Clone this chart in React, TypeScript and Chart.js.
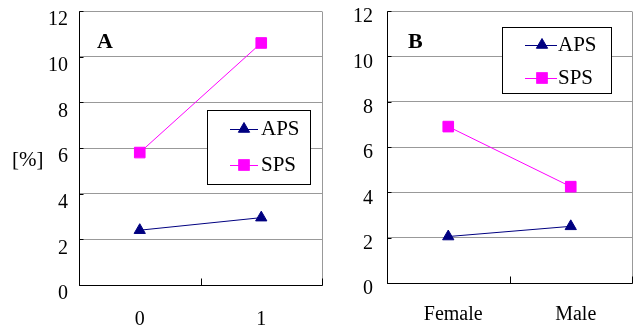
import React, { useEffect, useRef } from 'react';
import { Chart, registerables } from 'chart.js';

Chart.register(...registerables);

// ---- data ----
const catsA = ['0', '1'];
const apsA = [2.4, 2.95];
const spsA = [5.8, 10.6];

const catsB = ['Female', 'Male'];
const apsB = [2.05, 2.5];
const spsB = [6.9, 4.25];

const yTicks = [0, 2, 4, 6, 8, 10, 12];
const seriesNames = ['APS', 'SPS'];
const yTitle = '[%]';

// ---- styles ----
const NAVY = '#000080';
const MAGENTA = '#FF00FF';
const GRID = '#999999';
const FONT = "'Liberation Serif', 'Times New Roman', serif";
const TICK_SIZE = 20;
const LEGEND_SIZE = 21;

type LegendCfg = {
  x1: number; y1: number; x2: number; y2: number;
  lineX1: number; lineX2: number; markerX: number; textX: number; rowY: number[];
};

type PanelCfg = {
  left: number; width: number; height: number;
  yAxisWidth: number; xAxisHeight: number; padTop: number; padRight: number;
  yTickPad: number; yLabelOffset: number; xTickPad: number; xLabelOffset: number;
  categories: string[]; aps: number[]; sps: number[];
  label: string; labelX: number; labelBaseline: number;
  showYTitle: boolean; legend: LegendCfg;
};

const panelA: PanelCfg = {
  left: 0, width: 324, height: 328,
  yAxisWidth: 79, xAxisHeight: 43, padTop: 11, padRight: 2,
  yTickPad: 11, yLabelOffset: 9, xTickPad: 15, xLabelOffset: 0,
  categories: catsA, aps: apsA, sps: spsA,
  label: 'A', labelX: 97, labelBaseline: 48,
  showYTitle: true,
  legend: { x1: 207, y1: 110, x2: 310, y2: 184, lineX1: 230, lineX2: 258, markerX: 244, textX: 261, rowY: [129, 165] },
};

const panelB: PanelCfg = {
  left: 324, width: 310, height: 328,
  yAxisWidth: 63, xAxisHeight: 45, padTop: 11, padRight: 2,
  yTickPad: 14, yLabelOffset: 6, xTickPad: 12, xLabelOffset: 5,
  categories: catsB, aps: apsB, sps: spsB,
  label: 'B', labelX: 84, labelBaseline: 48,
  showYTitle: false,
  legend: { x1: 178, y1: 27, x2: 287, y2: 93, lineX1: 201, lineX2: 233, markerX: 218, textX: 234, rowY: [45, 78] },
};

function drawTriangle(ctx: CanvasRenderingContext2D, x: number, y: number, r: number, color: string) {
  ctx.beginPath();
  ctx.moveTo(x, y - r);
  ctx.lineTo(x + 0.866 * r, y + 0.5 * r);
  ctx.lineTo(x - 0.866 * r, y + 0.5 * r);
  ctx.closePath();
  ctx.fillStyle = color;
  ctx.fill();
  ctx.strokeStyle = color;
  ctx.stroke();
}

function drawSquare(ctx: CanvasRenderingContext2D, x: number, y: number, r: number, color: string) {
  const s = r * Math.SQRT1_2;
  ctx.fillStyle = color;
  ctx.fillRect(x - s, y - s, 2 * s, 2 * s);
  ctx.strokeStyle = color;
  ctx.strokeRect(x - s, y - s, 2 * s, 2 * s);
}

const makeOverlay = (cfg: PanelCfg) => ({
  id: 'overlay' + cfg.label,
  afterDraw(chart: any) {
    const ctx: CanvasRenderingContext2D = chart.ctx;
    const { left, right, top, bottom } = chart.chartArea;
    const xs = chart.scales.x;
    const ys = chart.scales.y;
    const a = (v: number) => Math.round(v) + 0.5;
    ctx.save();
    ctx.lineWidth = 1;
    // right border (gray)
    ctx.strokeStyle = GRID;
    ctx.beginPath();
    ctx.moveTo(a(right), a(top));
    ctx.lineTo(a(right), a(bottom));
    ctx.stroke();
    // axes (black)
    ctx.strokeStyle = '#000';
    ctx.beginPath();
    ctx.moveTo(a(left), a(top));
    ctx.lineTo(a(left), a(bottom));
    ctx.lineTo(a(right), a(bottom));
    ctx.stroke();
    // inward x ticks at category boundaries
    const n = cfg.categories.length;
    ctx.beginPath();
    for (let i = 0; i <= n; i++) {
      const x = a(xs.left + (i * (xs.right - xs.left)) / n);
      ctx.moveTo(x, a(bottom));
      ctx.lineTo(x, a(bottom) - 7);
    }
    ctx.stroke();
    // inward y ticks
    ctx.beginPath();
    yTicks.forEach((v) => {
      const y = a(ys.getPixelForValue(v));
      ctx.moveTo(a(left), y);
      ctx.lineTo(a(left) + 4, y);
    });
    ctx.stroke();

    // panel label
    ctx.fillStyle = '#000';
    ctx.font = `bold 22px ${FONT}`;
    ctx.textAlign = 'left';
    ctx.textBaseline = 'alphabetic';
    ctx.fillText(cfg.label, cfg.labelX, cfg.labelBaseline);

    // y title
    if (cfg.showYTitle) {
      ctx.font = `21px ${FONT}`;
      ctx.fillText(yTitle, 12, 166);
    }

    // legend
    const L = cfg.legend;
    ctx.fillStyle = '#fff';
    ctx.fillRect(L.x1, L.y1, L.x2 - L.x1, L.y2 - L.y1);
    ctx.strokeStyle = '#000';
    ctx.strokeRect(L.x1 + 0.5, L.y1 + 0.5, L.x2 - L.x1, L.y2 - L.y1);
    const colors = [NAVY, MAGENTA];
    seriesNames.forEach((name, i) => {
      const y = L.rowY[i];
      ctx.strokeStyle = colors[i];
      ctx.beginPath();
      ctx.moveTo(L.lineX1, a(y));
      ctx.lineTo(L.lineX2, a(y));
      ctx.stroke();
      if (i === 0) drawTriangle(ctx, L.markerX, y, 6.5, colors[i]);
      else drawSquare(ctx, L.markerX, y, 7.5, colors[i]);
      ctx.fillStyle = '#000';
      ctx.font = `${LEGEND_SIZE}px ${FONT}`;
      ctx.textAlign = 'left';
      ctx.textBaseline = 'middle';
      ctx.fillText(name, L.textX, y);
    });
    ctx.restore();
  },
});

function Panel({ cfg }: { cfg: PanelCfg }) {
  const ref = useRef<HTMLCanvasElement | null>(null);
  useEffect(() => {
    if (!ref.current) return;
    const chart = new Chart(ref.current, {
      type: 'line',
      data: {
        labels: cfg.categories,
        datasets: [
          {
            label: seriesNames[0],
            data: cfg.aps,
            borderColor: NAVY,
            backgroundColor: NAVY,
            borderWidth: 1,
            pointStyle: 'triangle',
            pointRadius: 6.5,
            pointBorderWidth: 1,
            pointBackgroundColor: NAVY,
            pointBorderColor: NAVY,
            tension: 0,
          },
          {
            label: seriesNames[1],
            data: cfg.sps,
            borderColor: MAGENTA,
            backgroundColor: MAGENTA,
            borderWidth: 1,
            pointStyle: 'rect',
            pointRadius: 7.5,
            pointBorderWidth: 1,
            pointBackgroundColor: MAGENTA,
            pointBorderColor: MAGENTA,
            tension: 0,
          },
        ],
      },
      options: {
        responsive: false,
        maintainAspectRatio: false,
        animation: false,
        layout: { autoPadding: false, padding: { top: cfg.padTop, right: cfg.padRight, left: 0, bottom: 0 } },
        plugins: { legend: { display: false }, tooltip: { enabled: false } },
        scales: {
          x: {
            type: 'category',
            offset: true,
            grid: { display: false },
            border: { display: false },
            ticks: {
              color: '#000',
              font: { family: FONT, size: TICK_SIZE },
              padding: cfg.xTickPad,
              labelOffset: cfg.xLabelOffset,
              maxRotation: 0,
              autoSkip: false,
            },
            afterFit: (s: any) => {
              s.height = cfg.xAxisHeight;
              s.paddingLeft = 0;
              s.paddingRight = 0;
            },
          },
          y: {
            min: 0,
            max: 12,
            grid: { color: GRID, lineWidth: 1, drawTicks: false },
            border: { display: false },
            ticks: {
              color: '#000',
              font: { family: FONT, size: TICK_SIZE },
              padding: cfg.yTickPad,
              labelOffset: cfg.yLabelOffset,
              stepSize: 2,
            },
            afterBuildTicks: (s: any) => {
              s.ticks = yTicks.map((v) => ({ value: v }));
            },
            afterFit: (s: any) => {
              s.width = cfg.yAxisWidth;
              s.paddingTop = 0;
              s.paddingBottom = 0;
            },
          },
        },
      },
      plugins: [makeOverlay(cfg)],
    } as any);
    return () => chart.destroy();
  }, [cfg]);
  return (
    <canvas
      ref={ref}
      width={cfg.width}
      height={cfg.height}
      style={{ position: 'absolute', left: cfg.left, top: 0, width: cfg.width, height: cfg.height }}
    />
  );
}

export default function App() {
  return (
    <div style={{ position: 'absolute', left: 0, top: 0, width: 634, height: 328, background: '#fff', overflow: 'hidden' }}>
      <Panel cfg={panelA} />
      <Panel cfg={panelB} />
    </div>
  );
}
